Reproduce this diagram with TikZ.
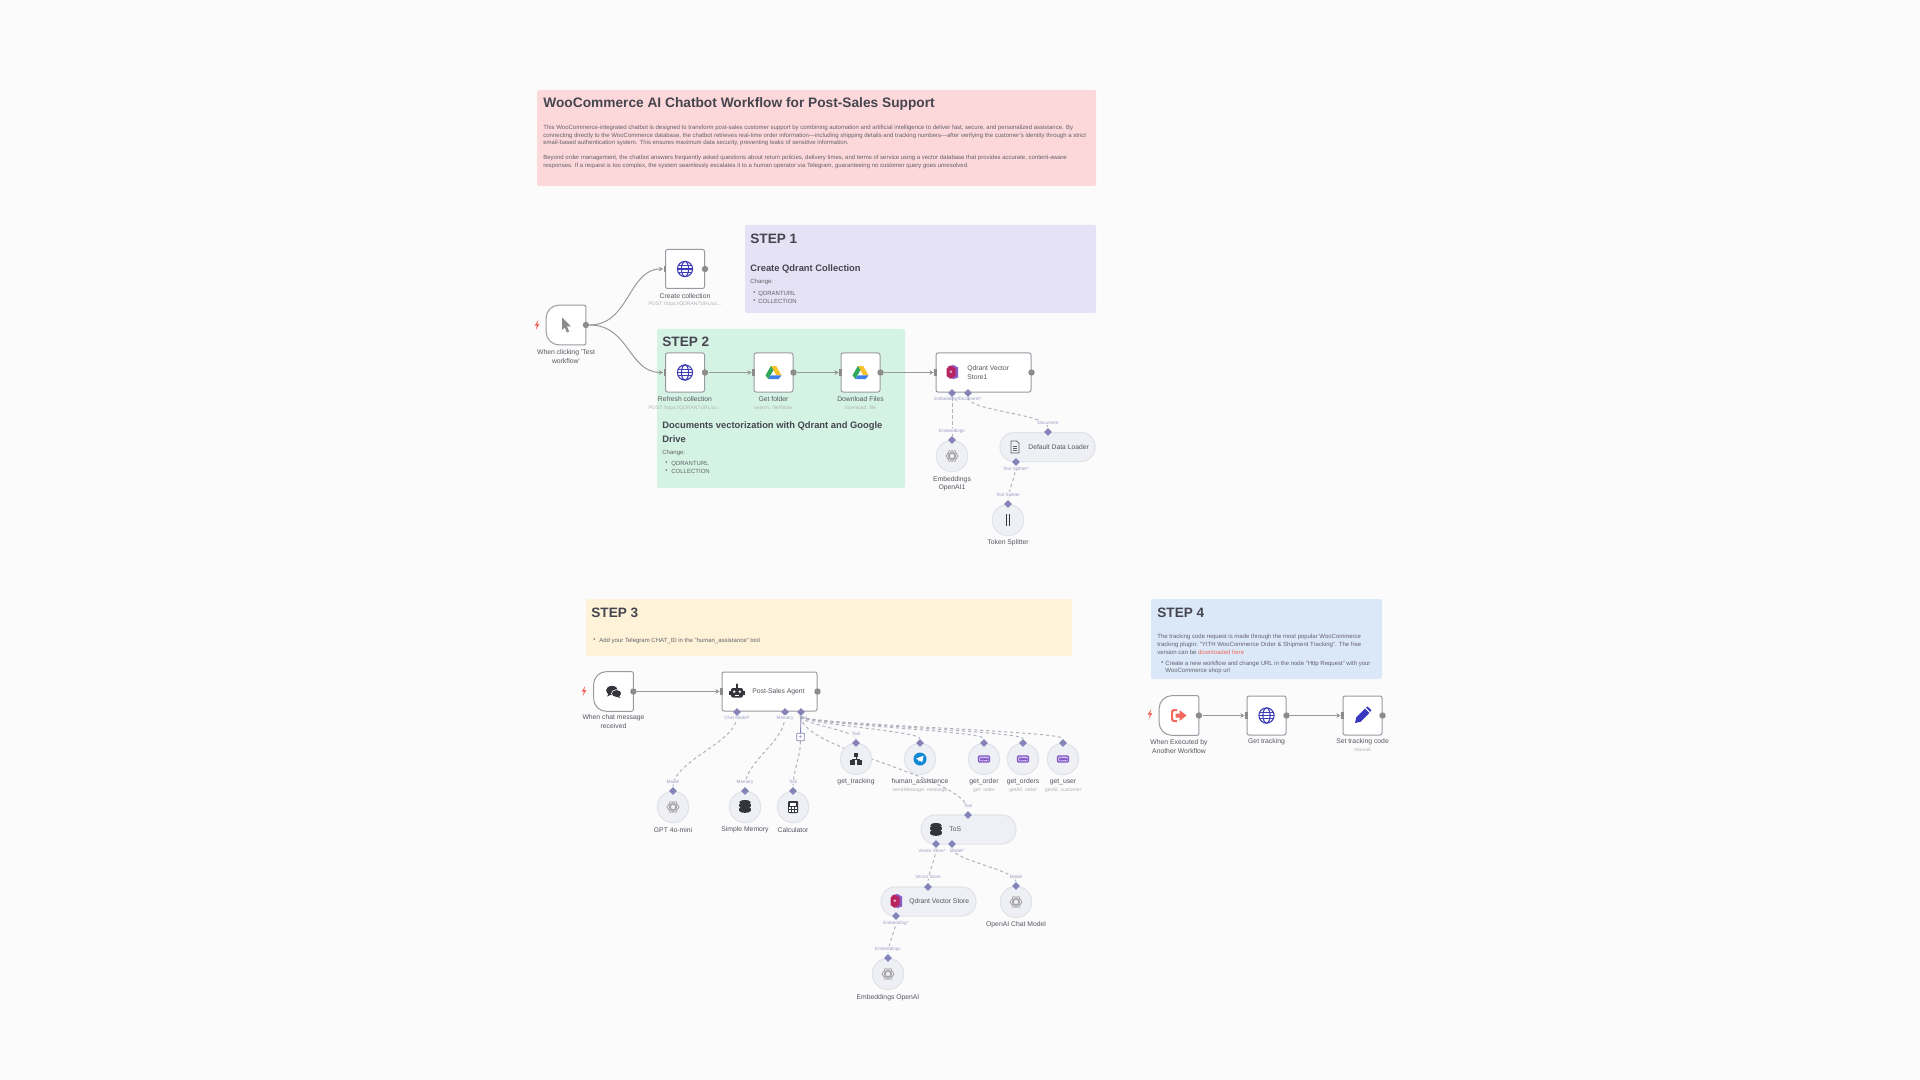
\documentclass[tikz,border=0pt]{standalone}
\usepackage{fontspec}
\setmainfont{Liberation Sans}
\usetikzlibrary{arrows.meta,shapes.geometric}
\pgfdeclarelayer{stickylayer}
\pgfdeclarelayer{connlayer}
\pgfsetlayers{stickylayer,connlayer,main}
\definecolor{pagebg}{HTML}{FBFBFC}
\definecolor{ink}{HTML}{45454F}
\definecolor{labelink}{HTML}{55555F}
\definecolor{subink}{HTML}{B2B2B8}
\definecolor{portgrey}{HTML}{8C8C8C}
\definecolor{linegrey}{HTML}{999999}
\definecolor{boxline}{HTML}{9A9AA2}
\definecolor{lav}{HTML}{8383B8}
\definecolor{lavtext}{HTML}{9C9CC2}
\definecolor{dashgrey}{HTML}{B2B2BE}
\definecolor{softfill}{HTML}{EFF0F5}
\definecolor{softline}{HTML}{E3E4EA}
\definecolor{redsticky}{HTML}{FCD8DA}
\definecolor{purplesticky}{HTML}{E4E2F4}
\definecolor{greensticky}{HTML}{D5F3E5}
\definecolor{yellowsticky}{HTML}{FEF3D8}
\definecolor{bluesticky}{HTML}{DBE8F8}
\definecolor{bolt}{HTML}{F0695C}
\definecolor{globeblue}{HTML}{3E3EB8}
\definecolor{darkicon}{HTML}{34343C}
\definecolor{woo}{HTML}{7F54C8}
\definecolor{drivegreen}{HTML}{2FA85A}
\definecolor{driveyellow}{HTML}{F9C22B}
\definecolor{driveblue}{HTML}{3C7FE8}
\definecolor{qpink}{HTML}{B8245F}
\definecolor{qpurple}{HTML}{8A5BC0}
\newcommand{\fs}[2]{\fontsize{#1}{#2}\selectfont}
\newcounter{tn}
\newcommand{\lab}[4][]{\stepcounter{tn}\node[#1] (tx\thetn) at (#2,#3) {#4};}
\tikzset{
  sticky/.style={draw=none,fill=#1,rounded corners=1pt},
  titletext/.style={anchor=west,inner sep=0pt,text=ink,font=\fs{6.86}{8}\bfseries},
  steptitle/.style={anchor=west,inner sep=0pt,text=ink,font=\fs{6.8}{8}\bfseries},
  headtext/.style={anchor=west,inner sep=0pt,text=ink,font=\fs{4.68}{6}\bfseries},
  bodytext/.style={anchor=west,inner sep=0pt,text=ink!85,font=\fs{3}{3.6}},
  nodelabel/.style={anchor=center,inner sep=0pt,yshift=-0.3pt,text=labelink,align=center,font=\fs{3.4}{4.1}},
  sublabel/.style={anchor=center,inner sep=0pt,text=subink,font=\fs{2.5}{3}},
  portlabel/.style={anchor=center,inner sep=0.4pt,fill=pagebg,text=lavtext,font=\fs{2.3}{3}},
  portlabelclear/.style={anchor=center,inner sep=0pt,text=lavtext,font=\fs{2.3}{3}},
  insidetext/.style={anchor=west,inner sep=0pt,text=labelink,align=left,font=\fs{3.38}{4.6}},
  wfbox/.style={draw=boxline,line width=0.5pt,fill=white,rounded corners=1pt,minimum width=19.5pt,minimum height=19.5pt,inner sep=0pt},
  widebox/.style={draw=boxline,line width=0.5pt,fill=white,rounded corners=1pt,minimum width=47.5pt,minimum height=19.5pt,inner sep=0pt},
  trigslot/.style={draw=none,minimum width=19.5pt,minimum height=19.5pt,inner sep=0pt},
  softcircle/.style={circle,draw=softline,line width=0.6pt,fill=softfill,minimum size=15.6pt,inner sep=0pt},
  softpill/.style={draw=softline,line width=0.6pt,fill=softfill,rounded corners=7.2pt,minimum width=47.5pt,minimum height=14.6pt,inner sep=0pt},
  outport/.style={circle,fill=portgrey,minimum size=3.2pt,inner sep=0pt},
  inport/.style={rectangle,fill=portgrey,minimum width=1.4pt,minimum height=3.2pt,inner sep=0pt},
  subport/.style={diamond,fill=lav,minimum size=4pt,inner sep=0pt},
  conn/.style={draw=linegrey,line width=0.5pt,-{Stealth[length=2.2pt,width=2.4pt]}},
  dashconn/.style={draw=dashgrey,line width=0.5pt,dash pattern=on 1.6pt off 1.4pt},
  plusbox/.style={draw=lav,line width=0.35pt,fill=white,rounded corners=0.4pt,minimum size=3.8pt,inner sep=0pt,text=lav,font=\fs{3.5}{3.5}},
  boltpic/.pic={\fill[bolt] (1.2,-5) -- (-2.4,0.6) -- (-0.2,0.6) -- (-1.2,5) -- (2.4,-1) -- (0.2,-1) -- cycle;},
  globepic/.pic={\begin{scope}[draw=globeblue,line width=0.55pt]
      \draw (0,0) circle [radius=7.6];
      \draw (0,0) ellipse [x radius=3.6,y radius=7.6];
      \draw (-7.6,0) -- (7.6,0);
      \draw (-6.8,-3.4) -- (6.8,-3.4);
      \draw (-6.8,3.4) -- (6.8,3.4);
    \end{scope}},
  drivepic/.pic={
      \fill[driveyellow] (-2.6,-6.5) -- (2.6,-6.5) -- (8,2.8) -- (2.8,2.8) -- cycle;
      \fill[drivegreen] (-2.6,-6.5) -- (0,-2.4) -- (-5.2,6.5) -- (-8,2.8) -- cycle;
      \fill[driveblue] (-5.2,6.5) -- (5.2,6.5) -- (8,2.8) -- (-2.6,2.8) -- cycle;},
  cursorpic/.pic={\fill[portgrey] (-4,-7.5) -- (5,1.5) -- (1,1.5) -- (3.2,6.5) -- (0.8,7.5) -- (-1.2,2.5) -- (-4,5) -- cycle;},
  chatpic/.pic={\fill[darkicon] (-1.5,-1) ellipse [x radius=6,y radius=4.6];
      \fill[darkicon] (-5,2) -- (-6.5,5) -- (-2,3) -- cycle;
      \fill[white] (3,2) ellipse [x radius=5.4,y radius=4.2];
      \fill[darkicon] (3,2) ellipse [x radius=4.6,y radius=3.4];
      \fill[darkicon] (5,4) -- (7,6.5) -- (2,5) -- cycle;},
  robotpic/.pic={\fill[darkicon,rounded corners=1pt] (-6,-3.5) rectangle (6,6);
      \fill[darkicon] (-8,-0.5) rectangle (8,3.5);
      \fill[darkicon] (-0.6,-7) rectangle (0.6,-3);
      \fill[darkicon] (0,-7) circle [radius=1.2];
      \fill[white] (-2.8,0.2) circle [radius=1.3];
      \fill[white] (2.8,0.2) circle [radius=1.3];
      \fill[white] (-2.4,3.4) rectangle (2.4,4.2);},
  exitpic/.pic={\draw[bolt,line width=1pt,rounded corners=0.8pt] (-2,-5.5) -- (-7,-5.5) -- (-7,5.5) -- (-2,5.5);
      \fill[bolt] (-3.5,-2) -- (0.5,-2) -- (0.5,-5.5) -- (7.5,0) -- (0.5,5.5) -- (0.5,2) -- (-3.5,2) -- cycle;},
  pencilpic/.pic={\fill[globeblue!90!blue] (-7.5,7.5) -- (-6.3,2) -- (2.5,-6.8) -- (6.8,-2.5) -- (-2,6.3) -- cycle;
      \fill[globeblue!90!blue] (3.6,-7.8) -- (5,-9) -- (8.8,-5.2) -- (7.8,-3.6) -- cycle;},
  dbpic/.pic={\fill[darkicon] (0,-4.6) ellipse [x radius=5.8,y radius=2.4];
      \fill[darkicon] (-5.8,-2.6) arc [start angle=180,end angle=360,x radius=5.8,y radius=2] -- (5.8,-0.6) arc [start angle=0,end angle=180,x radius=5.8,y radius=2] -- cycle;
      \fill[darkicon] (-5.8,1.6) arc [start angle=180,end angle=360,x radius=5.8,y radius=2] -- (5.8,3.8) arc [start angle=0,end angle=180,x radius=5.8,y radius=2] -- cycle;},
  calcpic/.pic={\fill[darkicon,rounded corners=0.5pt] (-5,-6) rectangle (5,6);
      \fill[white] (-3.4,-4.2) rectangle (3.4,-1.4);
      \foreach \cx in {-3,0,3}{\foreach \cy in {1,3.8}{\fill[white] (\cx-0.9,\cy-0.9) rectangle (\cx+0.9,\cy+0.9);}}},
  openaipic/.pic={\begin{scope}[draw=linegrey,line width=0.3pt]
      \foreach \a in {0,60,120}{\draw[rotate=\a] (0,0) ellipse [x radius=6.2,y radius=3.2];}
      \draw (0,0) circle [radius=2.6];
    \end{scope}},
  qdrantpic/.pic={\fill[qpurple] (-4,-5.5) -- (1.5,-7) -- (6,-4.5) -- (6,5.5) -- (1.5,7) -- (-4,5) -- cycle;
      \fill[qpink] (-5.5,-3.5) -- (-1.5,-6.5) -- (3.5,-3.5) -- (3.5,4) -- (-1.5,6.8) -- (-5.5,4) -- cycle;
      \fill[white!60!qpink] (-1.2,-0.2) circle [radius=1.5];},
  splitterpic/.pic={\fill[darkicon] (-2.2,-6) rectangle (-0.9,6); \fill[darkicon] (0.9,-6) rectangle (2.2,6);},
  docpic/.pic={\draw[darkicon!80,line width=0.35pt] (-4,-6) -- (1.5,-6) -- (4,-3.5) -- (4,6) -- (-4,6) -- cycle;
      \draw[darkicon!80,line width=0.35pt] (-2,-1) -- (2,-1) (-2,1.5) -- (2,1.5) (-2,3.8) -- (2,3.8);},
  blockspic/.pic={\fill[darkicon] (-2,-6) rectangle (2,-1.6); \fill[darkicon] (-6,1) rectangle (-1,6); \fill[darkicon] (1,1) rectangle (6,6);
      \draw[darkicon,line width=0.3pt] (0,-1.6) -- (0,0) (-3.5,1) -- (-3.5,0) -- (3.5,0) -- (3.5,1);},
  telepic/.pic={\fill[cyan!70!blue] (0,0) circle [radius=6.5];
      \fill[white] (-4.2,-0.3) -- (3.6,-3.4) -- (2.2,3.4) -- (-0.4,1.4) -- (-1.4,2.8) -- (-1.8,0.8) -- cycle;},
  woopic/.pic={\draw[woo,line width=0.6pt,fill=woo!30,rounded corners=0.5pt] (-5.5,-3) rectangle (5.5,3);
      \draw[woo,line width=0.4pt] (-3.8,-1) -- (-3,1.3) -- (-2,-1) -- (-1,1.3) -- (-0.2,-1) (1,0.2) circle [radius=0.9] (3.4,0.2) circle [radius=0.9];},
}
\newcommand{\wfnode}[4]{%
  \node[wfbox] (#1) at (#2,#3) {};
  \node[outport] (#1-o) at (#1.east) {};
  \node[inport] (#1-i) at (#1.west) {};
  \pic at (#2,#3) {#4};}
\newcommand{\trignode}[4]{%
  \node[trigslot] (#1) at (#2,#3) {};
  \draw[draw=boxline,line width=0.5pt,fill=white,rounded corners=1pt] (#1.east) -- (#1.north east)
    [rounded corners=6.5pt] -- (#1.north west) -- (#1.south west)
    [rounded corners=1pt] -- (#1.south east) -- cycle;
  \node[outport] (#1-o) at (#1.east) {};
  \pic at (#2,#3) {#4};}
\newcommand{\softnode}[4]{%
  \node[softcircle] (#1) at (#2,#3) {};
  \node[subport] (#1-t) at (#2,#3-16) {};
  \pic at (#2,#3) {#4};}
\begin{document}
\begin{tikzpicture}[x=0.5pt,y=-0.5pt]
\useasboundingbox (0,0) rectangle (1920,1080);
\begin{pgfonlayer}{stickylayer}
\fill[pagebg] (0,0) rectangle (1920,1080);
\fill[sticky=redsticky] (537,90) rectangle (1096,186);
\fill[sticky=purplesticky] (745,225) rectangle (1096,313);
\fill[sticky=greensticky] (657,329) rectangle (905,488);
\fill[sticky=yellowsticky] (586,599) rectangle (1072,656);
\fill[sticky=bluesticky] (1151,599) rectangle (1382,679);
\end{pgfonlayer}

% banner
\lab[titletext]{543}{104}{WooCommerce AI Chatbot Workflow for Post-Sales Support}
\lab[bodytext]{543}{127.5}{This WooCommerce-integrated chatbot is designed to transform post-sales customer support by combining automation and artificial intelligence to deliver fast, secure, and personalized assistance. By}
\lab[bodytext]{543}{135.5}{connecting directly to the WooCommerce database, the chatbot retrieves real-time order information—including shipping details and tracking numbers—after verifying the customer's identity through a strict}
\lab[bodytext]{543}{142.5}{email-based authentication system. This ensures maximum data security, preventing leaks of sensitive information.}
\lab[bodytext]{543}{157.5}{Beyond order management, the chatbot answers frequently asked questions about return policies, delivery times, and terms of service using a vector database that provides accurate, content-aware}
\lab[bodytext]{543}{165.5}{responses. If a request is too complex, the system seamlessly escalates it to a human operator via Telegram, guaranteeing no customer query goes unresolved.}

% step 1
\lab[steptitle]{750}{239}{STEP 1}
\lab[headtext]{750}{269.5}{Create Qdrant Collection}
\lab[bodytext]{750}{282}{Change:}
\lab[bodytext]{753}{293}{•}
\lab[bodytext]{758}{293.5}{QDRANTURL}
\lab[bodytext]{753}{301}{•}
\lab[bodytext]{758}{301.5}{COLLECTION}

% step 2
\lab[steptitle]{662}{342}{STEP 2}
\lab[headtext]{662}{426.5}{Documents vectorization with Qdrant and Google}
\lab[headtext]{662}{439}{Drive}
\lab[bodytext]{662}{452.5}{Change:}
\lab[bodytext]{665}{463}{•}
\lab[bodytext]{671}{463.5}{QDRANTURL}
\lab[bodytext]{665}{471}{•}
\lab[bodytext]{671}{471.5}{COLLECTION}

% step 3 and 4 text
\lab[steptitle]{591}{613}{STEP 3}
\lab[bodytext]{593}{640}{•}
\lab[bodytext]{599}{640.5}{Add your Telegram CHAT\_ID in the "human\_assistance" tool}
\lab[steptitle]{1157}{613}{STEP 4}
\lab[bodytext]{1157}{637}{The tracking code request is made through the most popular WooCommerce}
\lab[bodytext]{1157}{644.5}{tracking plugin: "YITH WooCommerce Order \& Shipment Tracking". The free}
\lab[bodytext]{1157}{652}{version can be \textcolor{bolt}{downloaded here}}
\lab[bodytext]{1161}{663}{•}
\lab[bodytext]{1165}{663.5}{Create a new workflow and change URL in the node "Http Request" with your}
\lab[bodytext]{1165}{670.5}{WooCommerce shop url}

% first row
\trignode{clicktrig}{566}{325}{cursorpic}
\pic at (537,325) {boltpic};
\lab[nodelabel]{566}{356}{When clicking 'Test\\workflow'}
\wfnode{createc}{685}{269}{globepic}
\lab[nodelabel]{685}{295.5}{Create collection}
\lab[sublabel]{685}{304}{POST: https://QDRANTURL/co...}
\wfnode{refresh}{685}{372.5}{globepic}
\lab[nodelabel]{685}{398}{Refresh collection}
\lab[sublabel]{685}{408}{POST: https://QDRANTURL/co...}
\wfnode{getfolder}{773.5}{372.5}{drivepic}
\lab[nodelabel]{773.5}{398}{Get folder}
\lab[sublabel]{773.5}{408}{search: file/folder}
\wfnode{download}{860.5}{372.5}{drivepic}
\lab[nodelabel]{860.5}{398}{Download Files}
\lab[sublabel]{860.5}{408}{download: file}

% Qdrant vector store 1 branch
\node[widebox] (qstore1) at (983.5,372.5) {};
\node[outport] (qstore1-o) at (qstore1.east) {};
\node[inport] (qstore1-i) at (qstore1.west) {};
\pic at (952,372) {qdrantpic};
\lab[insidetext]{967}{372.5}{Qdrant Vector\\Store1}
\node[subport] (qstore1-e) at (952,393) {};
\node[subport] (qstore1-d) at (968,393) {};
\lab[portlabelclear]{947}{399}{Embedding*}
\lab[portlabelclear]{970}{399}{Document*}
\softnode{embed1}{952}{456}{openaipic}
\lab[portlabel]{952}{431}{Embeddings}
\lab[nodelabel]{952}{483}{Embeddings\\OpenAI1}
\node[softpill] (loader) at (1047.5,447) {};
\node[subport] (loader-t) at (1048,432) {};
\node[subport] (loader-b) at (1016,462) {};
\pic at (1015,447) {docpic};
\lab[insidetext]{1028}{447}{Default Data Loader}
\lab[portlabel]{1048}{423}{Document}
\lab[portlabel]{1016}{469}{Text Splitter*}
\softnode{splitter}{1008}{520}{splitterpic}
\lab[portlabel]{1008}{495}{Text Splitter}
\lab[nodelabel]{1008}{542}{Token Splitter}

% step 3 row
\trignode{chattrig}{613.5}{691.5}{chatpic}
\pic at (584,691) {boltpic};
\lab[nodelabel]{613.5}{721}{When chat message\\received}
\node[widebox] (agent) at (769.5,691.5) {};
\node[outport] (agent-o) at (agent.east) {};
\node[inport] (agent-i) at (agent.west) {};
\pic at (737,691.5) {robotpic};
\lab[insidetext]{752}{691.5}{Post-Sales Agent}
\node[subport] (agent-c) at (737,712) {};
\node[subport] (agent-m) at (785,712) {};
\node[subport] (agent-t) at (801,712) {};
\lab[portlabel]{737}{718}{Chat Model*}
\lab[portlabel]{785}{718}{Memory}
\lab[portlabelclear]{803}{718}{Tool}
\node[plusbox] (plus) at (800.5,737) {+};

\softnode{gpt}{673}{807}{openaipic}
\lab[portlabel]{673}{782}{Model}
\lab[nodelabel]{673}{829}{GPT 4o-mini}
\softnode{memory}{745}{807}{dbpic}
\lab[portlabel]{745}{782}{Memory}
\lab[nodelabel]{745}{829}{Simple Memory}
\softnode{calc}{793}{807}{calcpic}
\lab[portlabel]{793}{782}{Tool}
\lab[nodelabel]{793}{829}{Calculator}
\softnode{tracking}{856}{759}{blockspic}
\lab[portlabel]{856}{734}{Tool}
\lab[nodelabel]{856}{781.5}{get\_tracking}
\softnode{human}{920}{759}{telepic}
\lab[nodelabel]{920}{781.5}{human\_assistence}
\lab[sublabel]{920}{790}{sendMessage: message}
\softnode{getorder}{984}{759}{woopic}
\lab[nodelabel]{984}{781.5}{get\_order}
\lab[sublabel]{984}{790}{get: order}
\softnode{getorders}{1023}{759}{woopic}
\lab[nodelabel]{1023}{781.5}{get\_orders}
\lab[sublabel]{1023}{790}{getAll: order}
\softnode{getuser}{1063}{759}{woopic}
\lab[nodelabel]{1063}{781.5}{get\_user}
\lab[sublabel]{1063}{790}{getAll: customer}

% ToS branch
\node[softpill] (tos) at (968.5,829.5) {};
\node[subport] (tos-t) at (968,815) {};
\node[subport] (tos-v) at (936,844) {};
\node[subport] (tos-m) at (952,844) {};
\pic at (936,830) {dbpic};
\lab[insidetext]{949}{829.5}{ToS}
\lab[portlabel]{968}{806}{Tool}
\lab[portlabel]{932}{851}{Vector Store*}
\lab[portlabel]{957}{851}{Model*}
\node[softpill] (qstore2) at (928.5,901.5) {};
\node[subport] (qstore2-t) at (928,887) {};
\node[subport] (qstore2-e) at (896,916) {};
\pic at (896,901) {qdrantpic};
\lab[insidetext]{909}{901.5}{Qdrant Vector Store}
\lab[portlabel]{928}{877}{Vector Store}
\lab[portlabel]{896}{923}{Embedding*}
\softnode{chatmodel}{1016}{902}{openaipic}
\lab[portlabel]{1016}{877}{Model}
\lab[nodelabel]{1016}{924}{OpenAI Chat Model}
\softnode{embed2}{888}{974}{openaipic}
\lab[portlabel]{888}{949}{Embeddings}
\lab[nodelabel]{888}{997}{Embeddings OpenAI}

% step 4 row
\trignode{exectrig}{1179}{715.5}{exitpic}
\pic at (1150,714) {boltpic};
\lab[nodelabel]{1179}{746}{When Executed by\\Another Workflow}
\wfnode{gettrack}{1266.5}{715.5}{globepic}
\lab[nodelabel]{1266.5}{741.5}{Get tracking}
\wfnode{settrack}{1362.5}{715.5}{pencilpic}
\lab[nodelabel]{1362.5}{741.5}{Set tracking code}
\lab[sublabel]{1362.5}{750}{manual}

\begin{pgfonlayer}{connlayer}
\draw[conn] (clicktrig-o.east) .. controls +(40,0) and +(-35,0) .. (createc-i.west);
\draw[conn] (clicktrig-o.east) .. controls +(40,0) and +(-35,0) .. (refresh-i.west);
\draw[conn] (refresh-o) -- (getfolder-i);
\draw[conn] (getfolder-o) -- (download-i);
\draw[conn] (download-o) -- (qstore1-i);
\draw[conn] (chattrig-o) -- (agent-i);
\draw[conn] (exectrig-o) -- (gettrack-i);
\draw[conn] (gettrack-o) -- (settrack-i);
\draw[dashconn] (qstore1-e) -- (embed1-t);
\draw[dashconn] (qstore1-d) .. controls +(0,18) and +(0,-18) .. (loader-t);
\draw[dashconn] (loader-b) .. controls +(0,12) and +(0,-12) .. (splitter-t);
\draw[dashconn] (agent-c) .. controls +(0,30) and +(0,-30) .. (gpt-t);
\draw[dashconn] (agent-m) .. controls +(0,30) and +(0,-30) .. (memory-t);
\draw[dashconn] (plus) .. controls +(0,20) and +(0,-20) .. (calc-t);
\draw[draw=lav,line width=0.45pt] (agent-t) -- (plus);
\draw[dashconn] (agent-t) .. controls +(0,12) and +(0,-12) .. (tracking-t);
\draw[dashconn] (agent-t) .. controls +(0,12) and +(0,-12) .. (human-t);
\draw[dashconn] (agent-t) .. controls +(0,12) and +(0,-12) .. (getorder-t);
\draw[dashconn] (agent-t) .. controls +(0,12) and +(0,-12) .. (getorders-t);
\draw[dashconn] (agent-t) .. controls +(0,12) and +(0,-12) .. (getuser-t);
\draw[dashconn] (agent-t) .. controls +(0,38) and +(0,-38) .. (tos-t);
\draw[dashconn] (tos-v) .. controls +(0,14) and +(0,-14) .. (qstore2-t);
\draw[dashconn] (tos-m) .. controls +(0,16) and +(0,-16) .. (chatmodel-t);
\draw[dashconn] (qstore2-e) .. controls +(0,14) and +(0,-14) .. (embed2-t);
\end{pgfonlayer}
\end{tikzpicture}
\end{document}
